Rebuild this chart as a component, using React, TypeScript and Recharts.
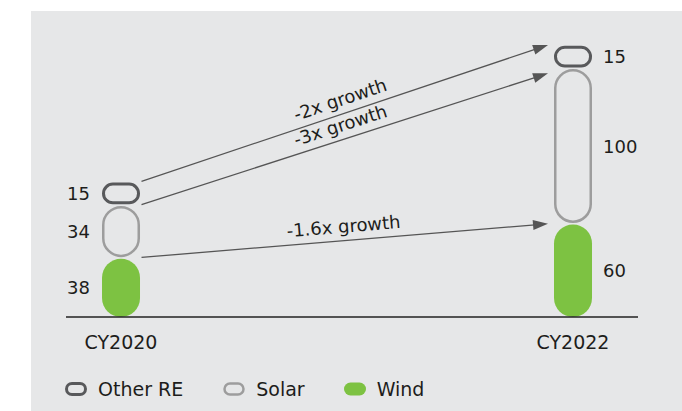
import React from 'react';
import { BarChart, Bar, XAxis, YAxis, ReferenceLine, LabelList, Legend } from 'recharts';

const categories = ['CY2020', 'CY2022'];
const windValues = [38, 60];
const solarValues = [34, 100];
const otherValues = [15, 15];
const seriesNames = ['Other RE', 'Solar', 'Wind'];
const growthLabels = ['-2x growth', '-3x growth', '-1.6x growth'];

const FONT = '"DejaVu Sans", sans-serif';
const TEXT = '#1d1d1b';
const GREEN = '#7dc242';
const DARK = '#58595b';
const LIGHT = '#9d9d9d';
const BG = '#e6e7e8';
const BAR_W = 38;

const rows = categories.map((c, i) => ({
  idx: i,
  name: c,
  wind: windValues[i],
  solar: solarValues[i],
  other: otherValues[i],
}));

const windTop = windValues;
const solarTop = windValues.map((w, i) => w + solarValues[i]);
const otherTop = solarTop.map((s, i) => s + otherValues[i]);

const arrows = [
  { label: growthLabels[0], from: otherTop[0], to: otherTop[1], endShift: 0 },
  { label: growthLabels[1], from: solarTop[0], to: solarTop[1], endShift: 5 },
  { label: growthLabels[2], from: windTop[0], to: windTop[1], endShift: 0 },
];

const segShape = (kind: 'stroke-dark' | 'stroke-light' | 'fill') => (p: any) => {
  const { x, y, width, height } = p;
  if (height == null || width == null) return null;
  const gap = 0.8;
  if (kind === 'fill') {
    const h = height - gap;
    const r = Math.min(width, h) / 2;
    return <rect x={x} y={y + gap} width={width} height={h} rx={r} ry={r} fill={GREEN} />;
  }
  const sw = kind === 'stroke-dark' ? 3 : 2.5;
  const rx = x + sw / 2;
  const ry = y + gap + sw / 2;
  const w = width - sw;
  const h = height - 2 * gap - sw;
  const r = Math.min(w, h) / 2;
  return (
    <rect
      x={rx}
      y={ry}
      width={w}
      height={h}
      rx={r}
      ry={r}
      fill="none"
      stroke={kind === 'stroke-dark' ? DARK : LIGHT}
      strokeWidth={sw}
    />
  );
};

const valueLabel = (p: any) => {
  const vb = p.viewBox ?? p;
  const x = vb.x ?? p.x;
  const y = vb.y ?? p.y;
  const width = vb.width ?? p.width;
  const height = vb.height ?? p.height;
  const idx = p.index ?? (x < 300 ? 0 : 1);
  const left = idx === 0;
  return (
    <text
      x={left ? x - 12 : x + width + 11}
      y={y + height / 2}
      dy="0.36em"
      textAnchor={left ? 'end' : 'start'}
      fontFamily={FONT}
      fontSize={18}
      fill={TEXT}
    >
      {p.value}
    </text>
  );
};

const arrowShape = (label: string, endShift: number) => (p: any) => {
  const { x1, y1, x2, y2 } = p;
  if (x1 == null || x2 == null) return null;
  const sx = x1 + BAR_W / 2 + 1.5;
  const sy = y1 - 0.5;
  const ex = x2 - BAR_W / 2 - 6;
  const ey = y2 + endShift;
  const dx = ex - sx;
  const dy = ey - sy;
  const len = Math.sqrt(dx * dx + dy * dy);
  const ux = dx / len;
  const uy = dy / len;
  const headL = 15;
  const headW = 5;
  const bx = ex - ux * headL;
  const by = ey - uy * headL;
  const nx = -uy;
  const ny = ux;
  const angle = (Math.atan2(dy, dx) * 180) / Math.PI;
  const mx = sx + dx * 0.5;
  const my = sy + dy * 0.5;
  const upx = uy;
  const upy = -ux;
  const off = 8;
  const tx = mx + upx * off;
  const ty = my + upy * off;
  return (
    <g>
      <line x1={sx} y1={sy} x2={bx + ux * 2} y2={by + uy * 2} stroke="#555" strokeWidth={1.3} />
      <polygon
        points={`${ex},${ey} ${bx + nx * headW},${by + ny * headW} ${bx - nx * headW},${by - ny * headW}`}
        fill="#555"
      />
      <text
        x={tx}
        y={ty}
        textAnchor="middle"
        transform={`rotate(${angle} ${tx} ${ty})`}
        fontFamily={FONT}
        fontSize={18}
        fill={TEXT}
      >
        {label}
      </text>
    </g>
  );
};

const categoryTick = (p: any) => {
  const v = p.payload?.value;
  return (
    <text
      x={p.x}
      y={p.y + 32}
      textAnchor="middle"
      fontFamily={FONT}
      fontSize={19}
      fill={TEXT}
    >
      {categories[v]}
    </text>
  );
};

const LegendIcon = ({ kind }: { kind: number }) => (
  <svg width={22} height={14} style={{ display: 'block' }}>
    {kind === 2 ? (
      <rect x={0} y={0.5} width={22} height={13} rx={6.5} ry={6.5} fill={GREEN} />
    ) : (
      <rect
        x={1.5}
        y={1.5}
        width={19}
        height={11}
        rx={5.5}
        ry={5.5}
        fill="none"
        stroke={kind === 0 ? DARK : LIGHT}
        strokeWidth={kind === 0 ? 3 : 2.5}
      />
    )}
  </svg>
);

const legendContent = () => (
  <div
    style={{
      height: 24,
      display: 'flex',
      alignItems: 'center',
      paddingLeft: 34,
      fontFamily: FONT,
      fontSize: 19,
      color: TEXT,
    }}
  >
    {seriesNames.map((n, i) => (
      <div key={n} style={{ display: 'flex', alignItems: 'center', marginRight: i === 0 ? 40 : 39 }}>
        <LegendIcon kind={i} />
        <span style={{ marginLeft: 11, whiteSpace: 'nowrap', lineHeight: '24px' }}>{n}</span>
      </div>
    ))}
  </div>
);

export default function App() {
  return (
    <div style={{ position: 'absolute', left: 0, top: 0, width: 682, height: 411, background: '#fff', overflow: 'hidden' }}>
      <div style={{ position: 'absolute', left: 31, top: 11, width: 651, height: 400, background: BG }}>
        <BarChart
          width={651}
          height={400}
          data={rows}
          margin={{ top: 34, right: 44, left: 35, bottom: 10 }}
        >
          <XAxis
            type="number"
            dataKey="idx"
            domain={[-0.1217, 1.1438]}
            allowDataOverflow
            ticks={[0, 1]}
            interval={0}
            tickLine={false}
            tickSize={0}
            tickMargin={0}
            height={60}
            axisLine={{ stroke: '#222', strokeWidth: 1.3 }}
            tick={categoryTick}
          />
          <YAxis hide domain={[0, 175]} allowDataOverflow />
          <Bar dataKey="wind" stackId="s" barSize={BAR_W} isAnimationActive={false} shape={segShape('fill')}>
            <LabelList dataKey="wind" content={valueLabel} />
          </Bar>
          <Bar dataKey="solar" stackId="s" barSize={BAR_W} isAnimationActive={false} shape={segShape('stroke-light')}>
            <LabelList dataKey="solar" content={valueLabel} />
          </Bar>
          <Bar dataKey="other" stackId="s" barSize={BAR_W} isAnimationActive={false} shape={segShape('stroke-dark')}>
            <LabelList dataKey="other" content={valueLabel} />
          </Bar>
          {arrows.map((a, i) => (
            <ReferenceLine
              key={i}
              ifOverflow="visible"
              segment={[
                { x: 0, y: a.from },
                { x: 1, y: a.to },
              ]}
              shape={arrowShape(a.label, a.endShift)}
            />
          ))}
          <Legend verticalAlign="bottom" align="left" height={24} wrapperStyle={{ left: 0, width: 651 }} content={legendContent} />
        </BarChart>
      </div>
    </div>
  );
}
